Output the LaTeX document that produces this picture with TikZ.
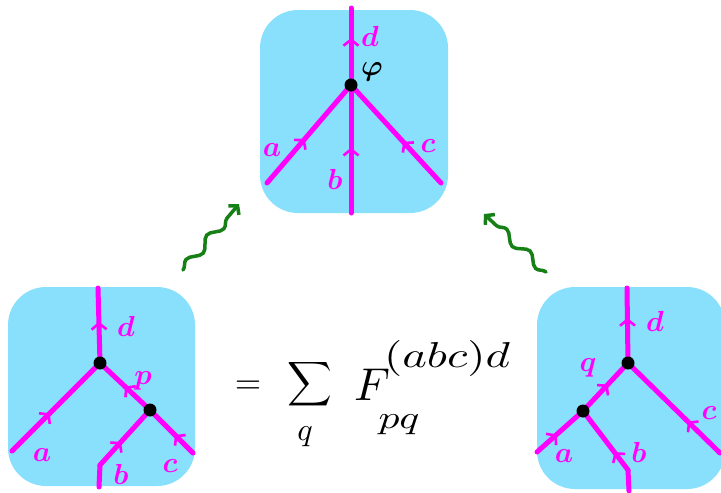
\documentclass[tikz,border=0pt]{standalone}
\usetikzlibrary{arrows.meta,decorations.markings,decorations.pathmorphing}
\definecolor{panelblue}{RGB}{136,224,252}
\definecolor{strandmag}{RGB}{255,0,255}
\definecolor{squiggreen}{RGB}{22,128,22}
\tikzset{
  panel/.style={fill=panelblue, rounded corners=38pt},
  strand/.style={draw=strandmag, line width=5pt, line cap=round, line join=round},
  tickat/.style={postaction={decorate, decoration={markings, mark=at position #1 with {\arrow[strandmag, line width=2.6pt]{Straight Barb[length=6pt, width=15pt]}}}}},
  lab/.style={text=strandmag, inner sep=0pt, scale=2.9, transform shape, font=\boldmath},
  eq/.style={text=black, inner sep=0pt, transform shape},
  vert/.style={circle, fill=black, inner sep=0pt, minimum size=13pt},
  squig/.style={draw=squiggreen, line width=3.5pt, line cap=round, decorate, decoration={snake, amplitude=4.5pt, segment length=32pt, post length=6pt}, -{Straight Barb[length=6pt,width=14pt]}},
}
\begin{document}
\begin{tikzpicture}[x=1pt,y=-1pt]
\clip (0,0) rectangle (721,493);
\fill[white] (0,0) rectangle (721,493);
% panels
\fill[panel] (260,10) rectangle (448,213);
\fill[panel] (8,287) rectangle (195,486);
\fill[panel] (537,287) rectangle (725,489);

% ---- top panel ----
\coordinate (t0) at (351,85);
\coordinate (td) at (351,8);
\coordinate (ta) at (267,183);
\coordinate (tb) at (351,213);
\coordinate (tc) at (441,183);
\draw[strand, tickat=0.61] (t0) -- (td);
\draw[strand, tickat=0.45] (ta) -- (t0);
\draw[strand, tickat=0.51] (tb) -- (t0);
\draw[strand, tickat=0.42] (tc) -- (t0);
\node[vert] (tdot) at (t0) {};
\node[lab] (tld) at (370,36) {$d$};
\node[lab, text=black] (tlphi) at (372,72) {$\varphi$};
\node[lab] (tla) at (272,150) {$a$};
\node[lab] (tlb) at (335,179) {$b$};
\node[lab] (tlc) at (428,146) {$c$};

% ---- left panel ----
\coordinate (l1) at (100,363);
\coordinate (ld) at (98,288);
\coordinate (la) at (12,451);
\coordinate (l2) at (150,410);
\coordinate (lc) at (193,453);
\coordinate (lbk) at (100,465);
\coordinate (lb) at (99,487);
\draw[strand, tickat=0.55] (l1) -- (ld);
\draw[strand, tickat=0.43] (la) -- (l1);
\draw[strand, tickat=0.5] (l2) -- (l1);
\draw[strand, tickat=0.42] (lc) -- (l2);
\draw[strand] (lb) -- (lbk);
\draw[strand, tickat=0.42] (lbk) -- (l2);
\node[vert] (ldot1) at (l1) {};
\node[vert] (ldot2) at (l2) {};
\node[lab] (lld) at (126,326) {$d$};
\node[lab] (llp) at (143,381) {$p$};
\node[lab] (lla) at (42,455) {$a$};
\node[lab] (llb) at (121,474) {$b$};
\node[lab] (llc) at (170,466) {$c$};

% ---- right panel ----
\coordinate (r1) at (628,363);
\coordinate (rd) at (627,288);
\coordinate (r2) at (583,411);
\coordinate (ra) at (537,452);
\coordinate (rbk) at (628,470);
\coordinate (rb) at (629,491);
\coordinate (rc) at (720,453);
\draw[strand, tickat=0.6] (r1) -- (rd);
\draw[strand, tickat=0.55] (r2) -- (r1);
\draw[strand, tickat=0.43] (ra) -- (r2);
\draw[strand] (rb) -- (rbk);
\draw[strand, tickat=0.3] (rbk) -- (r2);
\draw[strand, tickat=0.35] (rc) -- (r1);
\node[vert] (rdot1) at (r1) {};
\node[vert] (rdot2) at (r2) {};
\node[lab] (rld) at (655,321) {$d$};
\node[lab] (rlq) at (588,368) {$q$};
\node[lab] (rla) at (564,456) {$a$};
\node[lab] (rlb) at (639,452) {$b$};
\node[lab] (rlc) at (709,413) {$c$};

% ---- equation ----
\node[eq, scale=3.4] (eqs) at (248,387) {$=$};
\node[eq, scale=3.1] (sig) at (310,384) {$\displaystyle\sum$};
\node[eq, scale=3.2] (sigq) at (305,437) {$q$};
\node[eq, scale=4.6] (eF) at (372,385) {$F$};
\node[eq, scale=3.2, xscale=1.3] (esub) at (399,425) {$pq$};
\node[eq, scale=3.6, xscale=1.3] (esup) at (447,358) {$(abc)d$};

% ---- squiggles ----
\coordinate (sl0) at (183,270);
\coordinate (sl1) at (239,204);
\draw[squig] (sl0) -- (sl1);
\coordinate (sr0) at (546,272);
\coordinate (sr1) at (484,214);
\draw[squig] (sr0) -- (sr1);
\end{tikzpicture}
\end{document}
